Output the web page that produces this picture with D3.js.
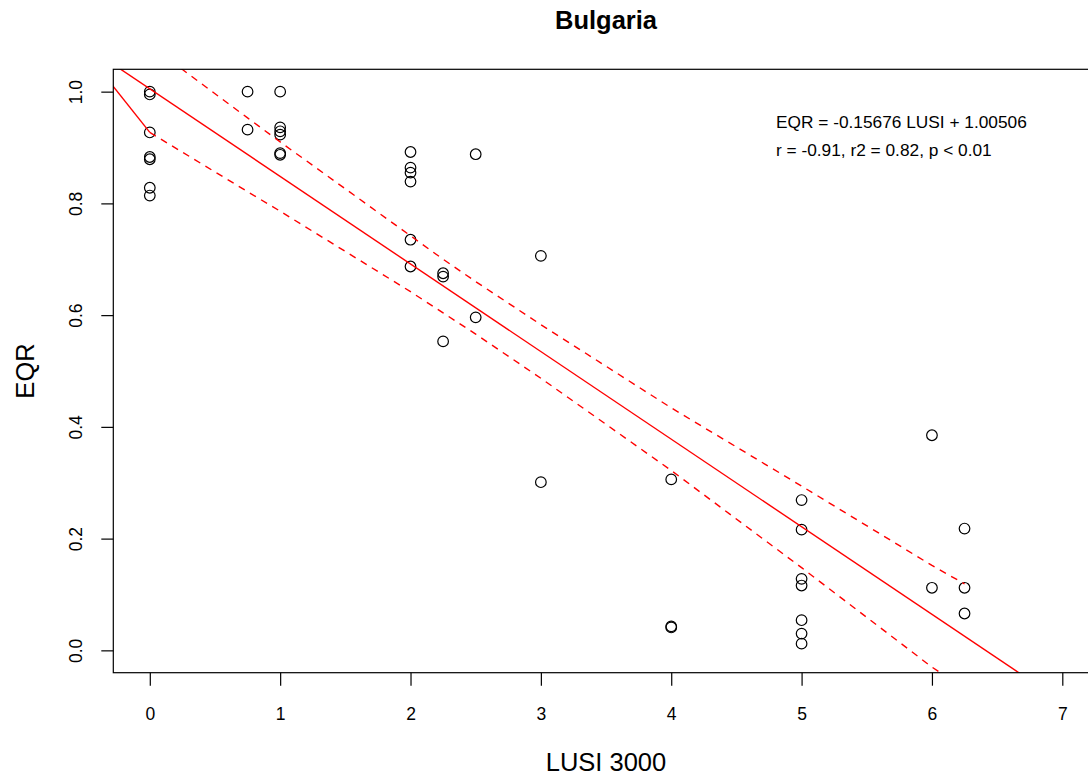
<!DOCTYPE html>
<html>
<head>
<meta charset="utf-8">
<script src="https://cdn.jsdelivr.net/npm/d3@7"></script>
<style>
  body { margin: 0; background: #fff; }
  svg { font-family: "Liberation Sans", Arial, sans-serif; }
</style>
</head>
<body>
<svg id="chart"></svg>
<script>
"use strict";

const W = 1088, H = 780;

// observations (LUSI score, EQR)
const lusi = [0, 0, 0, 0, 0, 0, 0,
  0.75, 0.75,
  1, 1, 1, 1, 1, 1,
  2, 2, 2, 2, 2, 2,
  2.25, 2.25, 2.25,
  2.5, 2.5,
  3, 3,
  4, 4, 4,
  5, 5, 5, 5, 5, 5, 5,
  6, 6,
  6.25, 6.25, 6.25];
const eqr = [1.0, 0.995, 0.927, 0.883, 0.879, 0.828, 0.814,
  1.0, 0.932,
  1.0, 0.936, 0.929, 0.923, 0.890, 0.887,
  0.892, 0.864, 0.855, 0.839, 0.735, 0.687,
  0.675, 0.669, 0.553,
  0.888, 0.596,
  0.706, 0.301,
  0.306, 0.043, 0.041,
  0.269, 0.216, 0.128, 0.116, 0.054, 0.030, 0.012,
  0.385, 0.112,
  0.218, 0.112, 0.066];

// fitted line and confidence band
const slope = -0.15676, intercept = 1.00506;
const bandX = [0, 0.75, 1, 2, 2.25, 2.5, 3, 4, 5, 6, 6.25];
const bandUpper = [1.083, 0.953, 0.910, 0.742, 0.700, 0.660, 0.583, 0.434, 0.294, 0.152, 0.119];
const bandLower = [0.927, 0.821, 0.786, 0.642, 0.604, 0.566, 0.487, 0.322, 0.148, -0.030, -0.069];
const leadX = [-0.3, 0];
const leadY = [1.015, 0.927];

const xTicks = [0, 1, 2, 3, 4, 5, 6, 7];
const yTicks = [0, 0.2, 0.4, 0.6, 0.8, 1.0];
const eqText = ["EQR = -0.15676 LUSI + 1.00506", "r = -0.91, r2 = 0.82, p < 0.01"];

const chart = d3.select('#chart').attr('width', W).attr('height', H);

const x = d3.scaleLinear().domain([-0.28, 7.28]).range([113.3, 1098.8]);
const y = d3.scaleLinear().domain([-0.04, 1.04]).range([672.7, 69.3]);

chart.append('defs').append('clipPath').attr('id', 'plotclip')
  .append('rect')
  .attr('x', x.range()[0]).attr('y', y.range()[1])
  .attr('width', x.range()[1] - x.range()[0])
  .attr('height', y.range()[0] - y.range()[1]);

const plot = chart.append('g').attr('clip-path', 'url(#plotclip)');

// points
plot.selectAll('.pt').data(lusi.map((v, i) => [v, eqr[i]]))
  .enter().append('circle')
  .attr('class', 'pt')
  .attr('cx', d => x(d[0]))
  .attr('cy', d => y(d[1]))
  .attr('r', 5.3)
  .attr('fill', 'none')
  .attr('stroke', '#000')
  .attr('stroke-width', 1.2);

// regression line
plot.append('line')
  .attr('x1', x(-0.5)).attr('y1', y(intercept + slope * -0.5))
  .attr('x2', x(7.5)).attr('y2', y(intercept + slope * 7.5))
  .attr('stroke', '#ff0000').attr('stroke-width', 1.4);

const line = d3.line().x(d => x(d[0])).y(d => y(d[1]));

plot.append('path')
  .attr('d', line(leadX.map((v, i) => [v, leadY[i]])))
  .attr('fill', 'none').attr('stroke', '#ff0000').attr('stroke-width', 1.4);

[bandUpper, bandLower].forEach(b => {
  plot.append('path')
    .attr('d', line(bandX.map((v, i) => [v, b[i]])))
    .attr('fill', 'none')
    .attr('stroke', '#ff0000')
    .attr('stroke-width', 1.4)
    .attr('stroke-dasharray', '7,6');
});

// box
chart.append('rect')
  .attr('x', x.range()[0]).attr('y', y.range()[1])
  .attr('width', x.range()[1] - x.range()[0])
  .attr('height', y.range()[0] - y.range()[1])
  .attr('fill', 'none').attr('stroke', '#000').attr('stroke-width', 1.2);

// x axis
const xa = chart.append('g').attr('transform', `translate(0,${y.range()[0]})`)
  .call(d3.axisBottom(x).tickValues(xTicks).tickSize(13).tickPadding(22).tickFormat(d3.format('d')));
xa.select('.domain').remove();
xa.selectAll('line').attr('stroke', '#000').attr('stroke-width', 1.2);
xa.selectAll('text').attr('font-size', 17.5).attr('fill', '#000')
  .attr('font-family', '"Liberation Sans", Arial, sans-serif');

// y axis
const ya = chart.append('g').attr('transform', `translate(${x.range()[0]},0)`)
  .call(d3.axisLeft(y).tickValues(yTicks).tickSize(12).tickFormat(d3.format('.1f')));
ya.select('.domain').remove();
ya.selectAll('line').attr('stroke', '#000').attr('stroke-width', 1.2);
ya.selectAll('text')
  .attr('font-size', 17.5).attr('fill', '#000')
  .attr('font-family', '"Liberation Sans", Arial, sans-serif')
  .attr('x', null).attr('dy', null)
  .attr('text-anchor', 'middle')
  .attr('transform', 'translate(-31,0) rotate(-90)');

// labels
chart.append('text').attr('x', 606).attr('y', 29)
  .attr('text-anchor', 'middle').attr('font-weight', 'bold').attr('font-size', 25.5)
  .text('Bulgaria');
chart.append('text').attr('x', 606).attr('y', 771)
  .attr('text-anchor', 'middle').attr('font-size', 25.5)
  .text('LUSI 3000');
chart.append('text').attr('transform', 'translate(34,371) rotate(-90)')
  .attr('text-anchor', 'middle').attr('font-size', 25.5)
  .text('EQR');

chart.selectAll('.eq').data(eqText).enter().append('text')
  .attr('class', 'eq')
  .attr('x', 776).attr('y', (d, i) => 128 + i * 28)
  .attr('font-size', 17.3)
  .text(d => d);
</script>
</body>
</html>
